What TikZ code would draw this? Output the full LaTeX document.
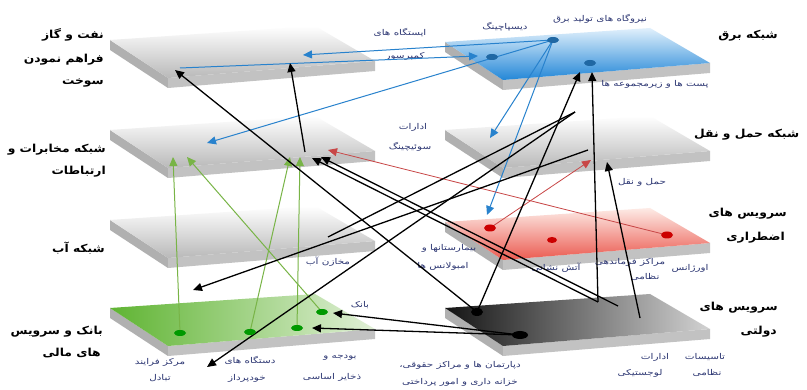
\documentclass[tikz,border=0pt]{standalone}
\usepackage{fontspec}
\newfontfamily\arabicbig[Script=Arabic,FakeStretch=1.12]{DejaVu Sans}
\newfontfamily\arabicsmall[Script=Arabic,FakeStretch=1.3]{DejaVu Sans}
\TeXXeTstate=1
\usetikzlibrary{arrows.meta,calc}
\newcommand{\pers}[1]{\beginR #1\endR}
\definecolor{navy}{RGB}{45,55,115}
\definecolor{bluea}{RGB}{40,130,205}
\definecolor{greena}{RGB}{120,180,70}
\definecolor{reda}{RGB}{200,70,70}
\newcommand{\platedraw}[3]{%
  \begin{scope}[shift={(#1,#2)}]
    \fill[gray!62] (0,0) -- (58,38) -- (58,48) -- (0,10) -- cycle;
    \fill[gray!48] (58,38) -- (265,21) -- (265,31) -- (58,48) -- cycle;
    \shade[#3] (0,0) -- (205,-14) -- (265,21) -- (58,38) -- cycle;
  \end{scope}}
\begin{document}
\begin{tikzpicture}[x=1pt,y=-1pt,
  big/.style={font=\arabicbig\bfseries\fontsize{11}{13}\selectfont, inner sep=0pt},
  small/.style={font=\arabicsmall\fontsize{8}{9}\selectfont, text=navy, inner sep=0pt},
  ah/.style={-{Triangle[length=9pt,width=8pt]}},
  blk/.style={ah, line width=1.3pt, black},
  blu/.style={ah, line width=1pt, bluea},
  grn/.style={ah, line width=1pt, greena},
  rd/.style={ah, line width=0.8pt, reda}]
\useasboundingbox (0,0) rectangle (807,390);
\fill[white] (0,0) rectangle (807,390);
% plates
\platedraw{110}{40}{top color=white, bottom color=gray!55}
\platedraw{110}{130}{top color=white, bottom color=gray!55}
\platedraw{110}{220}{top color=white, bottom color=gray!55}
\platedraw{110}{308}{left color={rgb,255:red,95;green,180;blue,50}, right color={rgb,255:red,225;green,240;blue,215}}
\platedraw{445}{42}{top color={rgb,255:red,225;green,240;blue,252}, bottom color={rgb,255:red,35;green,135;blue,215}}
\platedraw{445}{130}{top color=white, bottom color=gray!55}
\platedraw{445}{222}{top color={rgb,255:red,253;green,235;blue,230}, bottom color={rgb,255:red,235;green,90;blue,80}}
\platedraw{445}{308}{left color=black!92, right color=gray!35}
% big labels
\node[big, anchor=east] (t1a) at (104,35) {\pers{نفت و گاز}};
\node[big, anchor=east] (t1b) at (104,60) {\pers{فراهم نمودن}};
\node[big, anchor=east] (t1c) at (104,83) {\pers{سوخت}};
\node[big, anchor=east] (t2a) at (106,150) {\pers{شبکه مخابرات و}};
\node[big, anchor=east] (t2b) at (106,172) {\pers{ارتباطات}};
\node[big, anchor=east] (t3a) at (105,248) {\pers{شبکه آب}};
\node[big, anchor=east] (t4a) at (103,332) {\pers{بانک و سرویس}};
\node[big, anchor=east] (t4b) at (101,353) {\pers{های مالی}};
\node[big, anchor=east] (r1a) at (778,36) {\pers{شبکه برق}};
\node[big, anchor=west] (r2a) at (694,135) {\pers{شبکه حمل و نقل}};
\node[big, anchor=east] (r3a) at (787,214) {\pers{سرویس های}};
\node[big, anchor=east] (r3b) at (785,238) {\pers{اضطراری}};
\node[big, anchor=east] (r4a) at (778,308) {\pers{سرویس های}};
\node[big, anchor=east] (r4b) at (777,332) {\pers{دولتی}};
% small labels
\node[small] (s1) at (400,33) {\pers{ایستگاه های}};
\node[small] (s2) at (405,56) {\pers{کمپرسور}};
\node[small] (s3) at (505,27) {\pers{دیسپاچینگ}};
\node[small] (s4) at (600,19) {\pers{نیروگاه های تولید برق}};
\node[small] (s5) at (655,84) {\pers{پست ها و زیرمجموعه ها}};
\node[small] (s6) at (413,127) {\pers{ادارات}};
\node[small] (s7) at (410,147) {\pers{سوئیچینگ}};
\node[small] (s8) at (642,182) {\pers{حمل و نقل}};
\node[small] (s9) at (328,262) {\pers{مخازن آب}};
\node[small] (s10) at (449,248) {\pers{بیمارستانها و}};
\node[small] (s11) at (443,266) {\pers{امبولانس ها}};
\node[small] (s12) at (556,268) {\pers{آتش نشانی}};
\node[small] (s13) at (630,262) {\pers{مراکز فرماندهی}};
\node[small] (s14) at (645,277) {\pers{نظامی}};
\node[small] (s15) at (690,268) {\pers{اورژانس}};
\node[small] (s16) at (360,305) {\pers{بانک}};
\node[small] (s17) at (160,362) {\pers{مرکز فرایند}};
\node[small] (s18) at (160,378) {\pers{تبادل}};
\node[small] (s19) at (250,360) {\pers{دستگاه های}};
\node[small] (s20) at (247,378) {\pers{خودپرداز}};
\node[small] (s21) at (340,358) {\pers{بودجه و}};
\node[small] (s22) at (332,377) {\pers{ذخایر اساسی}};
\node[small] (s23) at (460,365) {\pers{دپارتمان ها و مراکز حقوقی،}};
\node[small] (s24) at (460,382) {\pers{خزانه داری و امور پرداختی}};
\node[small] (s25) at (655,357) {\pers{ادارات}};
\node[small] (s26) at (640,373) {\pers{لوجستیکی}};
\node[small] (s27) at (705,357) {\pers{تاسیسات}};
\node[small] (s28) at (707,373) {\pers{نظامی}};
% dots
\coordinate (b1) at (553,40);
\coordinate (b2) at (492,57);
\coordinate (b3) at (590,63);
\coordinate (r1) at (490,228);
\coordinate (r2) at (552,240);
\coordinate (r3) at (667,235);
\coordinate (g1) at (180,333);
\coordinate (g2) at (250,332);
\coordinate (g3) at (297,328);
\coordinate (g4) at (322,312);
\coordinate (k1) at (477,312);
\coordinate (k2) at (520,335);
\coordinate (oilL) at (180,68);
% sources on government plate
\coordinate (G1) at (598,302);
\coordinate (G2) at (618,306);
\coordinate (G3) at (640,318);
% targets
\coordinate (oA) at (303,55);
\coordinate (oB) at (175,70);
\coordinate (oC) at (290,63);
\coordinate (pA) at (478,56);
\coordinate (pB) at (580,72);
\coordinate (pC) at (592,72);
\coordinate (tA) at (207,143);
\coordinate (tG1) at (173,157);
\coordinate (tG2) at (187,157);
\coordinate (tG3) at (290,157);
\coordinate (tG4) at (300,157);
\coordinate (tK1) at (312,158);
\coordinate (tK2) at (321,157);
\coordinate (tR) at (328,150);
\coordinate (trA) at (490,138);
\coordinate (trB) at (591,160);
\coordinate (trC) at (607,162);
\coordinate (eA) at (487,215);
\coordinate (bkA) at (333,313);
\coordinate (bkB) at (312,328);
\coordinate (wA) at (193,290);
\coordinate (wB) at (207,367);
\coordinate (wS) at (328,237);
\coordinate (tS) at (305,152);
\coordinate (pS) at (575,112);
\coordinate (pT) at (588,150);
% connectors
\draw[blu] (b1) -- (oA);
\draw[blu] (oilL) -- (pA);
\draw[blu] (b1) -- (tA);
\draw[blu] (b1) -- (trA);
\draw[blu] (b1) -- (eA);
\draw[grn] (g1) -- (tG1);
\draw[grn] (g4) -- (tG2);
\draw[grn] (g2) -- (tG3);
\draw[grn] (g3) -- (tG4);
\draw[rd] (r3) -- (tR);
\draw[rd] (r1) -- (trB);
\draw[blk] (k1) -- (oB);
\draw[blk] (k1) -- (pB);
\draw[blk] (G1) -- (pC);
\draw[blk] (G3) -- (trC);
\draw[blk] (G1) -- (tK1);
\draw[blk] (G2) -- (tK2);
\draw[blk] (k2) -- (bkA);
\draw[blk] (k2) -- (bkB);
\draw[blk] (tS) -- (oC);
\draw[blk] (pT) -- (wA);
\draw[blk] (pS) -- (wB);
\draw[line width=1.3pt] (wS) -- (pS);
% dots drawn on top
\fill[bluea!80!black] (b1) ellipse [x radius=6pt, y radius=3pt];
\fill[bluea!80!black] (b2) ellipse [x radius=6pt, y radius=3pt];
\fill[bluea!80!black] (b3) ellipse [x radius=6pt, y radius=3pt];
\fill[red!80!black] (r1) ellipse [x radius=6pt, y radius=3.5pt];
\fill[red!80!black] (r2) ellipse [x radius=5pt, y radius=3pt];
\fill[red!80!black] (r3) ellipse [x radius=6pt, y radius=3.5pt];
\fill[green!60!black] (g1) ellipse [x radius=6pt, y radius=3pt];
\fill[green!60!black] (g2) ellipse [x radius=6pt, y radius=3pt];
\fill[green!60!black] (g3) ellipse [x radius=6pt, y radius=3pt];
\fill[green!60!black] (g4) ellipse [x radius=6pt, y radius=3pt];
\fill[black] (k1) ellipse [x radius=6pt, y radius=4pt];
\fill[black] (k2) ellipse [x radius=8pt, y radius=4pt];
\end{tikzpicture}
\end{document}
